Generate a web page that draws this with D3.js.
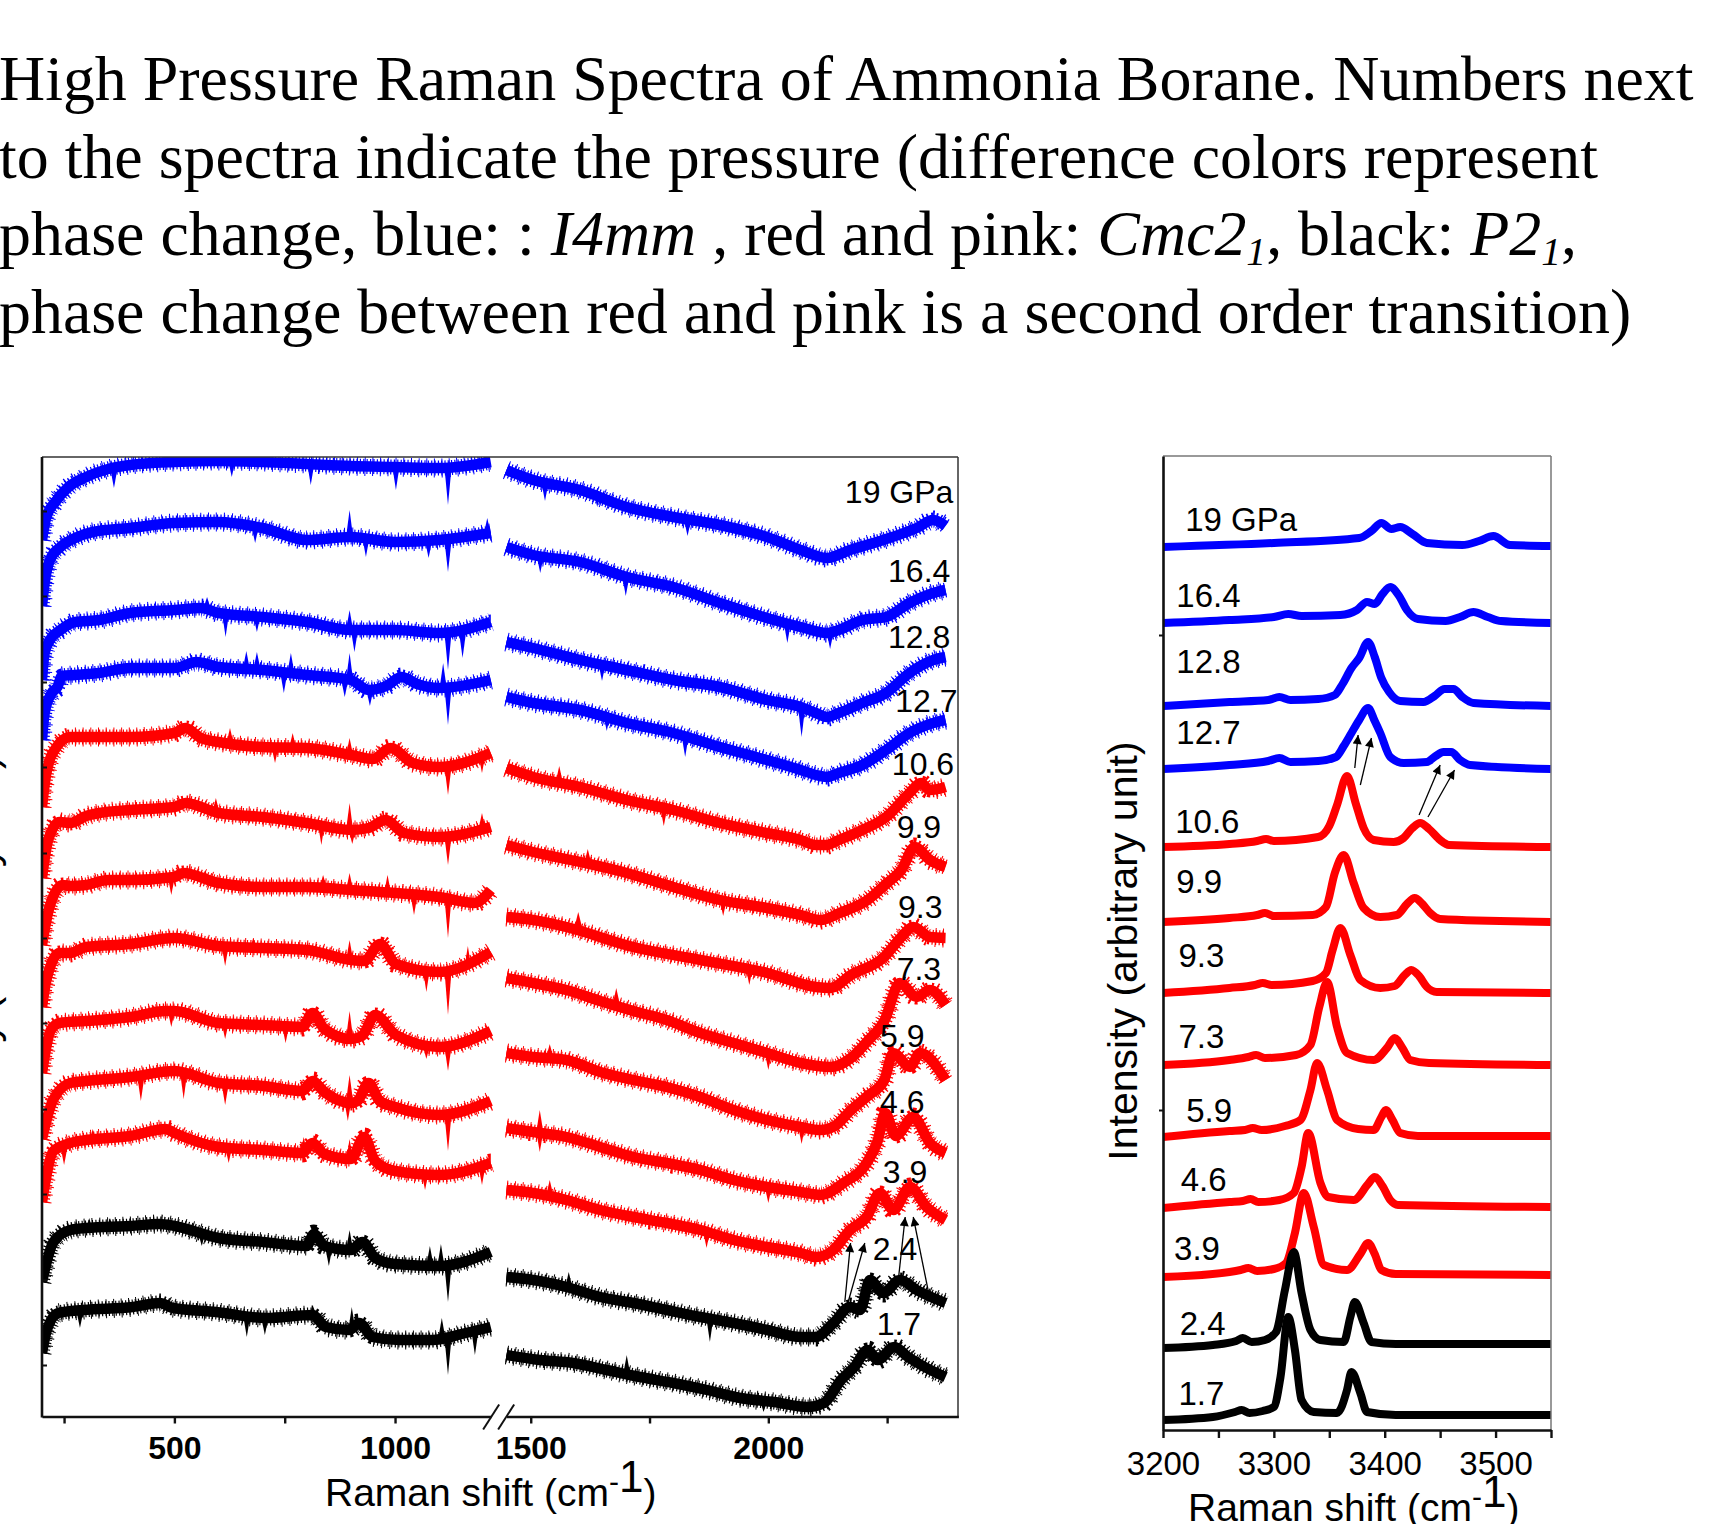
<!DOCTYPE html>
<html>
<head>
<meta charset="utf-8">
<title>High Pressure Raman Spectra of Ammonia Borane</title>
<script src="https://cdn.jsdelivr.net/npm/d3@7/dist/d3.min.js"></script>
<style>
  body { margin: 0; background: #fff; }
  svg { display: block; }
</style>
</head>
<body>
<svg id="chart" width="1720" height="1524"></svg>
<script>
// ---------- data ----------
// spectra top to bottom
const pressures = ["19 GPa", "16.4", "12.8", "12.7", "10.6", "9.9", "9.3", "7.3", "5.9", "4.6", "3.9", "2.4", "1.7"];
const phases = ["I4mm", "I4mm", "I4mm", "I4mm", "Cmc21", "Cmc21", "Cmc21", "Cmc21", "Cmc21", "Cmc21", "Cmc21", "P21", "P21"];

// low wavenumber part, [shift cm-1, stacked intensity]
const bhLow = [
  [[200,87.6],[210,89.9],[230,91.4],[260,92.9],[300,93.9],[350,94.7],[400,95.1],[500,95.4],[600,95.5],[700,95.4],[800,95.2],[900,95.0],[1000,94.9],[1100,94.8],[1217,95.4]],
  [[200,81.0],[206,83.3],[218,85.6],[242,86.9],[275,87.8],[315,88.4],[400,88.8],[500,89.3],[600,89.4],[700,88.8],[800,87.6],[900,87.9],[1000,87.4],[1100,87.6],[1217,88.3]],
  [[200,73.6],[206,76.3],[218,77.6],[242,78.6],[275,79.4],[330,79.6],[400,80.3],[500,80.6],[560,80.8],[600,80.3],[700,79.9],[800,79.4],[900,78.6],[1000,78.6],[1100,78.3],[1217,79.4]],
  [[200,67.6],[206,70.3],[222,72.3],[235,72.9],[245,74.0],[275,74.1],[330,74.3],[400,74.8],[500,74.8],[550,75.4],[600,74.9],[700,74.6],[800,74.1],[900,73.6],[940,72.6],[980,73.0],[1015,73.9],[1050,73.2],[1100,72.8],[1217,73.6]],
  [[200,60.9],[210,64.3],[233,66.9],[264,67.9],[320,67.9],[400,67.9],[500,68.3],[525,68.8],[560,67.8],[600,67.4],[700,66.9],[800,66.8],[900,66.1],[950,65.7],[990,66.8],[1040,65.3],[1100,64.9],[1217,66.3]],
  [[200,53.8],[214,57.6],[240,59.4],[264,59.3],[300,60.0],[330,60.3],[400,60.6],[500,60.9],[525,61.3],[600,60.3],[700,59.9],[800,59.3],[900,58.6],[940,58.8],[979,59.6],[1020,58.3],[1100,57.9],[1217,58.9]],
  [[200,47.1],[217,50.9],[247,53.1],[264,53.0],[300,53.1],[350,53.6],[400,53.6],[500,53.9],[520,54.3],[600,53.3],[700,52.9],[800,52.9],[900,52.6],[1000,52.3],[1100,51.9],[1180,51.3],[1217,52.6]],
  [[200,40.9],[210,43.6],[240,46.3],[264,46.3],[300,46.9],[400,47.2],[500,47.8],[600,47.0],[700,46.8],[800,46.6],[900,45.6],[930,45.5],[966,47.2],[1002,45.2],[1100,44.4],[1217,46.4]],
  [[200,34.3],[220,38.6],[240,39.3],[300,39.5],[400,39.9],[480,40.5],[500,40.5],[600,39.3],[700,39.1],[790,38.9],[813,40.3],[840,38.7],[900,37.7],[925,38.0],[955,40.1],[1002,38.1],[1100,36.9],[1217,38.5]],
  [[200,27.7],[225,31.6],[264,33.3],[300,33.5],[400,33.9],[500,34.5],[600,33.3],[700,33.0],[790,32.5],[813,33.5],[840,32.4],[900,31.3],[915,31.5],[940,33.3],[965,31.5],[1000,30.9],[1100,30.1],[1217,31.5]],
  [[200,21.4],[226,26.5],[264,27.3],[300,27.6],[400,28.0],[480,28.7],[500,28.3],[600,26.9],[700,26.6],[790,26.3],[813,27.3],[840,26.2],[900,25.7],[930,27.9],[955,25.5],[1000,24.5],[1100,24.1],[1217,25.3]],
  [[200,13.4],[226,17.4],[264,18.6],[300,18.8],[400,19.0],[466,19.2],[500,19.0],[600,17.8],[700,17.4],[800,17.0],[816,18.2],[840,17.0],[900,16.6],[926,17.4],[955,15.8],[1000,15.2],[1100,15.0],[1217,16.4]],
  [[200,6.3],[211,8.6],[237,10.3],[293,10.6],[406,10.9],[467,11.3],[497,10.8],[595,10.4],[708,9.8],[813,10.1],[843,8.9],[896,8.6],[919,9.3],[949,7.9],[1009,7.6],[1084,7.6],[1160,8.3],[1217,8.9]]
];

// B-H stretching part
const bhHigh = [
  [[1449,94.6],[1505,93.6],[1604,92.6],[1702,90.9],[1800,89.9],[1898,89.1],[1997,87.9],[2068,86.6],[2123,85.8],[2172,86.6],[2242,87.6],[2312,88.8],[2347,89.6],[2373,89.0]],
  [[1449,86.9],[1505,86.1],[1604,85.4],[1702,83.9],[1800,82.9],[1898,81.3],[1997,79.8],[2068,78.9],[2123,78.3],[2148,78.6],[2198,79.6],[2248,79.9],[2297,81.3],[2347,82.3],[2373,82.6]],
  [[1449,77.4],[1505,76.8],[1604,75.6],[1702,74.6],[1800,73.6],[1898,72.9],[1997,71.6],[2068,70.9],[2100,70.3],[2123,69.9],[2148,70.3],[2198,71.3],[2248,72.3],[2297,74.3],[2347,75.6],[2373,75.9]],
  [[1449,71.9],[1505,71.3],[1604,70.6],[1702,69.3],[1800,68.3],[1898,66.9],[1997,65.6],[2068,64.6],[2100,64.1],[2123,63.9],[2148,64.3],[2198,65.1],[2248,66.6],[2297,68.3],[2347,69.3],[2373,69.6]],
  [[1449,64.8],[1505,63.9],[1604,62.9],[1702,61.6],[1800,60.6],[1898,59.3],[1997,58.3],[2068,57.6],[2100,57.1],[2123,57.1],[2148,57.6],[2198,58.6],[2248,59.9],[2297,62.3],[2321,63.3],[2340,62.6],[2373,62.9]],
  [[1449,57.1],[1505,56.4],[1604,55.4],[1702,54.3],[1800,52.9],[1898,51.6],[1997,50.8],[2068,50.1],[2110,49.6],[2150,50.3],[2209,51.6],[2250,53.3],[2280,54.6],[2308,56.9],[2340,55.6],[2373,54.9]],
  [[1449,49.9],[1505,49.6],[1575,48.9],[1716,46.9],[1857,45.6],[1998,44.3],[2100,42.9],[2131,42.8],[2174,44.1],[2244,45.9],[2280,47.9],[2305,48.9],[2340,47.9],[2373,47.8]],
  [[1449,43.8],[1505,43.3],[1575,42.6],[1646,41.5],[1716,40.5],[1786,39.6],[1857,38.3],[1927,37.3],[1998,36.3],[2068,35.3],[2131,34.9],[2174,35.8],[2209,37.5],[2244,39.5],[2277,43.3],[2312,41.9],[2340,42.6],[2373,41.1]],
  [[1449,36.3],[1505,35.9],[1575,35.6],[1646,34.4],[1716,33.6],[1786,32.9],[1857,31.9],[1927,30.6],[1998,29.6],[2068,28.9],[2110,28.6],[2140,29.0],[2174,30.6],[2209,32.0],[2244,33.6],[2263,36.3],[2298,34.9],[2319,36.3],[2373,33.6]],
  [[1449,28.8],[1505,28.4],[1575,27.9],[1646,26.9],[1716,25.9],[1786,25.3],[1857,24.6],[1927,23.6],[1998,22.9],[2068,22.4],[2110,22.1],[2158,23.3],[2207,25.3],[2230,27.5],[2246,30.3],[2268,28.0],[2305,29.9],[2340,27.3],[2373,26.3]],
  [[1449,22.6],[1505,22.3],[1575,21.6],[1646,20.6],[1716,19.9],[1786,19.3],[1857,18.6],[1927,17.6],[1998,16.9],[2068,16.3],[2100,15.9],[2137,16.6],[2172,18.6],[2207,19.9],[2235,22.3],[2263,20.6],[2298,22.9],[2333,20.9],[2373,19.6]],
  [[1449,13.9],[1505,13.6],[1575,12.9],[1646,11.9],[1716,11.3],[1786,10.6],[1857,9.9],[1927,9.3],[1998,8.6],[2068,7.9],[2100,7.9],[2137,9.3],[2172,10.9],[2193,10.6],[2214,13.6],[2242,12.3],[2277,13.6],[2312,12.6],[2373,11.3]],
  [[1449,6.1],[1519,5.6],[1589,5.3],[1660,4.6],[1730,3.9],[1800,3.3],[1871,2.6],[1941,1.8],[2012,1.4],[2082,0.9],[2117,1.3],[2153,3.6],[2181,4.9],[2209,6.6],[2230,5.6],[2265,6.9],[2294,5.9],[2329,4.9],[2373,3.9]]
];

// sharp noise spikes seen on the noisy spectra: [shift, level, tip]
const bhSpikes = [
  [[363,94.7,92.8],[630,95.5,93.9],[809,95.2,93.1],[1002,94.9,92.6],[1120,94.8,91.1],[1205,95.3,96.6],[1530,93.3,91.5],[1640,92.3,90.9],[1830,89.6,88.0]],
  [[683,88.9,87.3],[897,87.9,90.6],[934,87.8,85.9],[1076,87.5,85.8],[1120,87.5,84.4],[1209,88.2,89.8],[1520,86.0,84.3],[1700,83.9,82.0],[2040,79.3,77.3],[2130,78.4,76.7]],
  [[574,80.8,81.9],[616,80.3,77.9],[687,80.0,78.4],[897,78.6,80.6],[908,78.6,76.4],[1120,78.3,74.6],[1153,78.4,75.8],[2070,70.8,67.9],[1650,75.2,73.5]],
  [[663,74.7,76.5],[687,74.7,76.4],[748,74.3,72.3],[764,74.3,76.3],[886,73.6,71.9],[897,73.6,76.3],[943,72.6,71.0],[1109,72.8,75.3],[1120,72.8,69.1],[1825,68.0,65.9],[1660,70.1,68.5]],
  [[626,67.3,68.8],[728,66.9,65.3],[768,66.8,68.3],[897,66.1,67.8],[1120,64.9,62.1],[1197,66.1,64.3],[1560,63.4,65.0],[1780,60.8,59.0]],
  [[594,60.4,61.8],[833,59.3,57.1],[897,58.6,61.3],[903,58.6,57.2],[1120,57.9,55.1],[1197,58.7,60.3],[1905,51.6,50.0],[1620,55.3,56.7]],
  [[493,53.9,52.1],[570,53.5,54.6],[837,52.9,54.1],[897,52.6,54.3],[983,52.3,54.1],[1043,52.1,50.1],[1120,51.8,47.8],[1960,44.8,43.1],[1600,49.0,50.4]],
  [[615,47.0,45.0],[679,46.8,47.8],[897,45.6,47.6],[1071,44.7,42.4],[1120,44.5,40.1],[1165,44.8,47.0],[1680,41.2,42.8],[2000,36.3,34.6]],
  [[453,40.2,41.1],[493,40.5,38.9],[615,39.3,37.7],[752,39.0,37.3],[897,37.8,40.5],[1071,37.0,35.7],[1120,36.9,34.5],[2070,29.0,27.2],[1540,35.9,37.2]],
  [[299,33.4,34.1],[424,33.9,31.5],[521,34.3,31.7],[541,34.2,34.9],[615,33.2,31.1],[893,31.5,29.5],[897,31.5,34.1],[1120,30.1,26.5],[1519,28.4,30.6],[1519,28.4,26.4],[2000,22.9,21.3]],
  [[250,26.9,25.1],[315,27.5,28.7],[623,26.9,25.3],[793,26.3,27.9],[897,25.6,27.7],[1068,24.3,22.6],[1197,25.0,23.1],[1870,18.5,16.8],[1540,22.1,23.6]],
  [[307,18.6,19.8],[354,18.7,19.8],[562,18.3,17.0],[850,16.8,15.0],[897,16.6,18.6],[1079,15.1,17.0],[1104,15.0,17.2],[1120,15.0,11.4],[1877,9.8,7.4],[1580,12.9,14.4]],
  [[286,10.5,8.8],[664,10.0,7.9],[705,9.8,8.1],[814,10.1,11.0],[902,8.6,10.9],[1106,7.8,9.8],[1120,7.8,4.1],[1181,8.5,6.1],[1702,4.2,6.1],[1990,1.5,0.4]]
];

// N-H stretching region, [shift cm-1, stacked intensity]
const nhStretch = [
  [[3200,88.3],[3300,88.7],[3377,89.2],[3388,89.9],[3397,90.7],[3406,90.1],[3414,90.3],[3425,89.6],[3438,88.7],[3470,88.5],[3485,88.9],[3498,89.4],[3513,88.5],[3550,88.4]],
  [[3200,80.7],[3260,81.0],[3300,81.3],[3313,81.6],[3325,81.4],[3360,81.5],[3375,82.0],[3384,82.8],[3391,82.6],[3398,83.6],[3405,84.3],[3413,83.4],[3420,82.0],[3430,81.1],[3455,80.9],[3468,81.3],[3480,81.8],[3493,81.3],[3505,80.9],[3550,80.7]],
  [[3200,72.4],[3260,72.8],[3295,73.0],[3305,73.3],[3315,73.0],[3340,73.1],[3355,73.5],[3362,74.6],[3370,76.2],[3377,77.2],[3385,78.8],[3391,77.3],[3397,75.2],[3404,73.8],[3414,72.9],[3435,72.8],[3445,73.4],[3454,74.1],[3462,74.1],[3470,73.3],[3480,72.7],[3550,72.4]],
  [[3200,66.1],[3260,66.5],[3295,66.9],[3305,67.2],[3315,66.8],[3340,66.9],[3356,67.3],[3363,68.4],[3370,69.7],[3377,71.0],[3385,72.2],[3391,70.9],[3396,69.7],[3405,67.3],[3417,66.7],[3438,66.8],[3446,67.4],[3453,67.8],[3460,67.8],[3468,67.0],[3477,66.5],[3550,66.1]],
  [[3200,58.3],[3260,58.6],[3285,58.9],[3293,59.1],[3300,58.9],[3340,59.3],[3350,60.4],[3357,62.5],[3366,65.4],[3374,62.6],[3381,60.2],[3390,59.0],[3408,58.8],[3417,59.2],[3425,60.2],[3432,60.7],[3440,60.1],[3450,59.0],[3458,58.5],[3550,58.3]],
  [[3200,50.8],[3260,51.2],[3285,51.5],[3292,51.7],[3300,51.4],[3335,51.5],[3347,52.3],[3355,55.7],[3363,57.5],[3372,54.7],[3381,52.2],[3396,51.3],[3411,51.5],[3420,52.6],[3427,53.2],[3434,52.6],[3441,51.7],[3450,51.1],[3550,50.8]],
  [[3200,43.7],[3260,44.2],[3283,44.5],[3290,44.7],[3298,44.5],[3335,44.9],[3347,45.7],[3353,48.0],[3360,50.2],[3369,47.5],[3378,45.0],[3396,44.2],[3409,44.4],[3418,45.5],[3424,46.0],[3431,45.4],[3438,44.3],[3447,43.8],[3550,43.7]],
  [[3200,36.5],[3260,37.0],[3277,37.3],[3284,37.5],[3292,37.2],[3320,37.5],[3333,38.5],[3341,42.3],[3348,44.8],[3357,40.3],[3366,37.7],[3390,37.0],[3402,38.2],[3409,39.2],[3416,38.2],[3423,37.0],[3440,36.7],[3550,36.5]],
  [[3200,29.3],[3260,29.9],[3274,30.0],[3281,30.2],[3289,30.0],[3310,30.4],[3324,31.0],[3333,34.0],[3339,36.7],[3348,34.0],[3357,31.0],[3376,30.1],[3390,30.0],[3397,31.3],[3401,32.0],[3407,31.0],[3414,29.7],[3430,29.4],[3550,29.4]],
  [[3200,22.2],[3260,22.8],[3272,22.9],[3279,23.1],[3286,22.8],[3305,23.0],[3318,23.7],[3325,26.3],[3331,29.7],[3342,24.7],[3349,23.3],[3372,23.0],[3385,24.6],[3391,25.3],[3398,24.4],[3405,23.0],[3412,22.5],[3550,22.3]],
  [[3200,15.3],[3260,15.8],[3270,16.0],[3277,16.2],[3285,15.9],[3300,16.1],[3311,16.7],[3319,19.7],[3327,23.7],[3336,20.3],[3345,16.5],[3366,16.0],[3378,17.6],[3385,18.7],[3391,17.6],[3397,16.0],[3410,15.6],[3550,15.5]],
  [[3200,8.2],[3245,8.5],[3266,8.9],[3272,9.2],[3280,8.8],[3292,9.0],[3302,9.8],[3310,14.0],[3318,17.8],[3325,13.7],[3333,10.0],[3342,9.0],[3363,8.8],[3369,11.3],[3373,12.8],[3381,10.7],[3388,8.8],[3410,8.6],[3550,8.6]],
  [[3200,1.0],[3245,1.3],[3265,1.8],[3271,2.0],[3278,1.7],[3290,1.9],[3300,2.3],[3306,5.3],[3313,11.3],[3319,8.0],[3325,3.0],[3336,1.8],[3357,1.7],[3366,4.0],[3370,5.8],[3378,3.7],[3384,1.8],[3410,1.5],[3550,1.5]]
];

// axis ticks
const lowTicks = [250, 500, 750, 1000];
const highTicks = [1500, 1750, 2000, 2250];
const bhTickLabels = [500, 1000, 1500, 2000];
const bhLevelTicks = [5.1, 13.6, 22.2, 30.7, 39.3, 47.8, 56.3, 64.9, 73.4, 82.0, 90.5];
const nhTicks = [3200, 3250, 3300, 3350, 3400, 3450, 3500, 3550];
const nhTickLabels = [3200, 3300, 3400, 3500];
const nhLevelTicks = [32, 79.5];

// peak shift arrows, [[from], [to]] in data units
const bhArrows = [[[2161,11.4],[2173,17.3]], [[2168,11.4],[2203,17.3]], [[2274,13.8],[2288,19.9]], [[2337,12.4],[2305,19.9]]];
const nhArrows = [[[3373,66.2],[3376,69.5]], [[3378,64.5],[3388,69.2]], [[3431,61.5],[3450,66.5]], [[3439,61.3],[3463,66.0]]];

// ---------- layout ----------
const phaseColor = { I4mm: "#0000ff", Cmc21: "#ff0000", P21: "#000000" };
const sans = '"Liberation Sans", Arial, Helvetica, sans-serif';
const serif = '"Liberation Serif", "Times New Roman", Times, serif';
// where each pressure label sits (data units of its panel)
const bhLabelAt = [[2161,91.3],[2252,83.4],[2252,76.8],[2267,70.4],[2260,64.1],[2270,57.8],[2273,49.8],[2270,43.6],[2235,36.9],[2235,30.3],[2241,23.3],[2220,15.6],[2228,8.1]];
const nhLabelAt = [[3220,89.9],[3212,82.3],[3212,75.7],[3212,68.6],[3211,59.7],[3212,53.7],[3214,46.3],[3214,38.2],[3221,30.8],[3216,23.9],[3210,17.0],[3215,9.5],[3214,2.5]];

const svg = d3.select("#chart");
svg.append("rect").attr("width", 1720).attr("height", 1524).attr("fill", "#fff");
const defs = svg.append("defs");
defs.append("marker")
  .attr("id", "head").attr("viewBox", "0 0 10 10").attr("refX", 10).attr("refY", 5)
  .attr("markerUnits", "userSpaceOnUse").attr("markerWidth", 14).attr("markerHeight", 9)
  .attr("orient", "auto")
  .append("path").attr("d", "M0,0L10,5L0,10Z").attr("fill", "#000");

// ---------- caption ----------
const captionLines = [
  [{ t: "High Pressure Raman Spectra of Ammonia Borane. Numbers next" }],
  [{ t: "to the spectra indicate the pressure (difference colors represent" }],
  [{ t: "phase change, blue: : " }, { t: "I4mm", i: true }, { t: " , red and pink: " }, { t: "Cmc2", i: true },
   { t: "1", i: true, sub: true }, { t: ", black: " }, { t: "P2", i: true }, { t: "1", i: true, sub: true }, { t: "," }],
  [{ t: "phase change between red and pink is a second order transition)" }]
];
const caption = svg.append("g").attr("font-family", serif).attr("fill", "#000");
captionLines.forEach((segs, i) => {
  const t = caption.append("text").attr("x", -1).attr("y", 100 + i * 77.5).attr("font-size", 64);
  let lowered = false;
  segs.forEach(s => {
    const ts = t.append("tspan").text(s.t);
    if (s.i) ts.attr("font-style", "italic");
    if (s.sub) { ts.attr("font-size", "0.62em").attr("dy", "0.26em"); lowered = true; }
    else if (lowered) { ts.attr("dy", "-0.16em"); lowered = false; }
  });
});
const firstLen = caption.select("text").node().getComputedTextLength();
caption.selectAll("text").attr("font-size", 64 * 1695 / firstLen);

// ---------- left panel: 200-2400 cm-1 with a break ----------
const L = { x0: 42, x1: 958, y0: 457, y1: 1416.5 };
const xLow = d3.scaleLinear().domain([200, 1217]).range([42, 490.8]);
const xHigh = d3.scaleLinear().domain([1449, 2400]).range([506.5, 958.4]);
const yL = d3.scaleLinear().domain([0, 95.9]).range([1416, 457]);

defs.append("clipPath").attr("id", "clipL").append("rect")
  .attr("x", L.x0).attr("y", L.y0).attr("width", L.x1 - L.x0).attr("height", L.y1 - L.y0);
const plotL = svg.append("g").attr("clip-path", "url(#clipL)");

const lineLow = d3.line().x(d => xLow(d[0])).y(d => yL(d[1])).curve(d3.curveMonotoneX);
const lineHigh = d3.line().x(d => xHigh(d[0])).y(d => yL(d[1])).curve(d3.curveMonotoneX);

// the measured spectra are noisy: core stroke plus two comb strokes for the fuzz
const bandStyles = [
  { w: 10.5, dash: null },
  { w: 15, dash: "1.2 2.2" },
  { w: 19, dash: "1 6.7" }
];
pressures.forEach((p, i) => {
  const c = phaseColor[phases[i]];
  [[bhLow[i], lineLow], [bhHigh[i], lineHigh]].forEach(([seg, gen]) => {
    bandStyles.forEach(st => {
      plotL.append("path").attr("d", gen(seg)).attr("fill", "none")
        .attr("stroke", c).attr("stroke-width", st.w).attr("stroke-linejoin", "round")
        .attr("stroke-dasharray", st.dash);
    });
  });
  plotL.selectAll(null).data(bhSpikes[i]).join("path")
    .attr("d", d => {
      const x = d[0] < 1300 ? xLow(d[0]) : xHigh(d[0]);
      const yb = yL(d[1]), yt = yL(d[2]);
      return `M${x - 3.5},${yb}L${x},${yt}L${x + 3.5},${yb}Z`;
    })
    .attr("fill", c);
});

// labels
svg.append("g").attr("font-family", sans).attr("font-size", 32)
  .selectAll("text").data(pressures).join("text")
  .attr("x", (d, i) => xHigh(bhLabelAt[i][0])).attr("y", (d, i) => yL(bhLabelAt[i][1]))
  .text(d => d);

// arrows
svg.append("g").selectAll("line").data(bhArrows).join("line")
  .attr("x1", d => xHigh(d[0][0])).attr("y1", d => yL(d[0][1]))
  .attr("x2", d => xHigh(d[1][0])).attr("y2", d => yL(d[1][1]))
  .attr("stroke", "#000").attr("stroke-width", 1.3).attr("marker-end", "url(#head)");

// frame
const frameL = svg.append("g").attr("fill", "none");
frameL.append("line").attr("x1", L.x0).attr("x2", L.x1).attr("y1", L.y0).attr("y2", L.y0).attr("stroke", "#333").attr("stroke-width", 1.5);
frameL.append("line").attr("x1", L.x1).attr("x2", L.x1).attr("y1", L.y0).attr("y2", L.y1).attr("stroke", "#333").attr("stroke-width", 1.5);
frameL.append("line").attr("x1", L.x0).attr("x2", L.x0).attr("y1", L.y0).attr("y2", L.y1 + 1).attr("stroke", "#111").attr("stroke-width", 2.6);

svg.append("g").attr("transform", `translate(${L.x0},0)`)
  .call(d3.axisRight(yL).tickValues(bhLevelTicks).tickSize(5).tickFormat(""))
  .call(g => g.select(".domain").remove())
  .call(g => g.selectAll("line").attr("stroke", "#111").attr("stroke-width", 2));

function styleAxis(g, bold, size) {
  g.select(".domain").attr("stroke", "#111").attr("stroke-width", 2.6);
  g.selectAll(".tick line").attr("stroke", "#111").attr("stroke-width", 2.4);
  g.selectAll("text").attr("font-family", sans).attr("font-size", size)
    .attr("font-weight", bold ? "bold" : "normal").attr("fill", "#000");
}
[[xLow, lowTicks], [xHigh, highTicks]].forEach(([sc, ticks]) => {
  svg.append("g").attr("transform", `translate(0,${L.y1})`)
    .call(d3.axisBottom(sc).tickValues(ticks).tickSize(7).tickSizeOuter(0).tickPadding(13)
      .tickFormat(d => bhTickLabels.includes(d) ? d : ""))
    .call(g => styleAxis(g, true, 32));
});
// axis break marks
const bx = (xLow(1217) + xHigh(1449)) / 2;
svg.append("g").attr("stroke", "#111").attr("stroke-width", 2)
  .selectAll("line").data([-7.5, 7.5]).join("line")
  .attr("x1", d => bx + d - 8).attr("y1", L.y1 + 13).attr("x2", d => bx + d + 8).attr("y2", L.y1 - 12);

function axisTitle(x, y) {
  const t = svg.append("text").attr("x", x).attr("y", y).attr("font-family", sans).attr("font-size", 39);
  t.append("tspan").text("Raman shift (cm");
  t.append("tspan").attr("font-size", 30).attr("dy", -14).text("-");
  t.append("tspan").attr("font-size", 44).text("1");
  t.append("tspan").attr("dy", 14).text(")");
}
axisTitle(325, 1506);

function yTitle(x, y) {
  svg.append("text").attr("transform", `translate(${x},${y}) rotate(-90)`)
    .attr("text-anchor", "middle").attr("font-family", sans).attr("font-size", 41)
    .text("Intensity (arbitrary unit)");
}
yTitle(-2, 965);

// ---------- right panel: N-H stretching ----------
const R = { x0: 1163, x1: 1551, y0: 456, y1: 1430 };
const xR = d3.scaleLinear().domain([3200, 3550]).range([R.x0, R.x1]);
const yR = d3.scaleLinear().domain([0, 97.4]).range([R.y1, R.y0]);

defs.append("clipPath").attr("id", "clipR").append("rect")
  .attr("x", R.x0).attr("y", R.y0).attr("width", R.x1 - R.x0).attr("height", R.y1 - R.y0);
const plotR = svg.append("g").attr("clip-path", "url(#clipR)");
const lineR = d3.line().x(d => xR(d[0])).y(d => yR(d[1])).curve(d3.curveMonotoneX);

plotR.selectAll("path").data(nhStretch).join("path")
  .attr("d", lineR).attr("fill", "none")
  .attr("stroke", (d, i) => phaseColor[phases[i]])
  .attr("stroke-width", 8).attr("stroke-linejoin", "round");

svg.append("g").attr("font-family", sans).attr("font-size", 33)
  .selectAll("text").data(pressures).join("text")
  .attr("x", (d, i) => xR(nhLabelAt[i][0])).attr("y", (d, i) => yR(nhLabelAt[i][1]))
  .text(d => d);

svg.append("g").selectAll("line").data(nhArrows).join("line")
  .attr("x1", d => xR(d[0][0])).attr("y1", d => yR(d[0][1]))
  .attr("x2", d => xR(d[1][0])).attr("y2", d => yR(d[1][1]))
  .attr("stroke", "#000").attr("stroke-width", 1.3).attr("marker-end", "url(#head)");

const frameR = svg.append("g");
frameR.append("line").attr("x1", R.x0).attr("x2", R.x1).attr("y1", R.y0).attr("y2", R.y0).attr("stroke", "#777").attr("stroke-width", 1.5);
frameR.append("line").attr("x1", R.x1).attr("x2", R.x1).attr("y1", R.y0).attr("y2", R.y1).attr("stroke", "#777").attr("stroke-width", 1.5);
svg.append("g").attr("transform", `translate(${R.x0},0)`)
  .call(d3.axisLeft(yR).tickValues(nhLevelTicks).tickSize(4).tickFormat("").tickSizeOuter(0))
  .call(g => g.select(".domain").attr("stroke", "#111").attr("stroke-width", 2.6))
  .call(g => g.selectAll(".tick line").attr("stroke", "#111").attr("stroke-width", 2));

svg.append("g").attr("transform", `translate(0,${R.y1})`)
  .call(d3.axisBottom(xR).tickValues(nhTicks).tickSize(8).tickSizeOuter(0).tickPadding(14)
    .tickFormat(d => nhTickLabels.includes(d) ? d : ""))
  .call(g => styleAxis(g, false, 33));

axisTitle(1188, 1521);
yTitle(1137, 951);
</script>
</body>
</html>
